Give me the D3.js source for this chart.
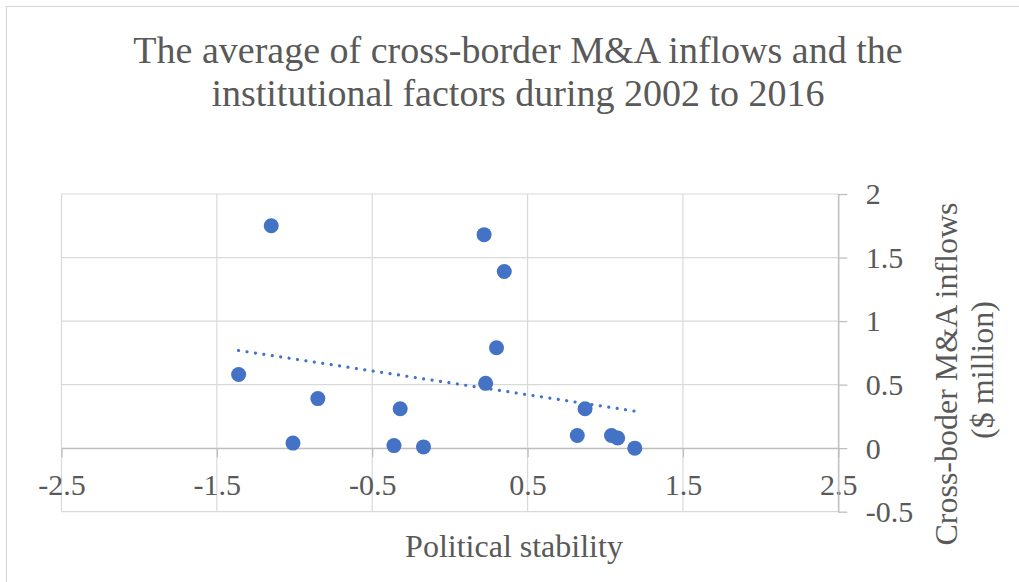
<!DOCTYPE html>
<html>
<head>
<meta charset="utf-8">
<script src="https://cdn.jsdelivr.net/npm/d3@7"></script>
<style>
  html, body { margin: 0; padding: 0; background: #ffffff; }
  svg { display: block; font-family: "Liberation Serif", "Times New Roman", serif; }
</style>
</head>
<body>
<svg id="chart" width="1019" height="582"></svg>
<script>
// Average political stability score and cross-border M&A inflows per country, 2002–2016
const politicalStability = [-1.15, -1.36, -0.85, -1.01, -0.32, -0.36, -0.17, 0.22, 0.35, 0.30, 0.23, 0.87, 0.82, 1.04, 1.08, 1.19];
const maInflows         = [ 1.75,  0.58,  0.39,  0.04,  0.31,  0.02,  0.01, 1.68, 1.39, 0.79, 0.51, 0.31, 0.10, 0.10, 0.08, 0.00];

const xTicks = [-2.5, -1.5, -0.5, 0.5, 1.5, 2.5];
const yTicks = [-0.5, 0, 0.5, 1, 1.5, 2];

const titleLines = ["The average of cross-border M&A inflows and the", "institutional factors during 2002 to 2016"];
const xTitle = "Political stability";
const yTitleLines = ["Cross-boder M&A inflows", "($ million)"];

const textColor = "#595959";
const gridColor = "#d9d9d9";
const axisColor = "#bfbfbf";
const markColor = "#4472C4";

// plain hyphen-minus for negative tick values
const tickText = d => String(d);

const svg = d3.select("#chart");

// chart frame
svg.append("rect")
  .attr("x", 6.5).attr("y", 6.5)
  .attr("width", 1100).attr("height", 700)
  .attr("fill", "#ffffff")
  .attr("stroke", gridColor).attr("stroke-width", 1.2);

const x = d3.scaleLinear().domain([-2.5, 2.5]).range([61.5, 838.3]);
const y = d3.scaleLinear().domain([-0.5, 2]).range([511.7, 194]);

// gridlines
const grid = svg.append("g").attr("stroke", gridColor).attr("stroke-width", 1.2);
grid.selectAll("line.v").data(xTicks).join("line")
  .attr("class", "v")
  .attr("x1", d => x(d)).attr("x2", d => x(d))
  .attr("y1", y(-0.5)).attr("y2", y(2));
grid.selectAll("line.h").data(yTicks).join("line")
  .attr("class", "h")
  .attr("x1", x(-2.5)).attr("x2", x(2.5))
  .attr("y1", d => y(d)).attr("y2", d => y(d));

// x axis crossing at y = 0
const xAxis = svg.append("g")
  .attr("transform", `translate(0,${y(0)})`)
  .call(d3.axisBottom(x).tickValues(xTicks).tickSize(9).tickSizeOuter(0).tickFormat(tickText));
xAxis.select(".domain").attr("stroke", axisColor).attr("stroke-width", 1.3);
xAxis.selectAll(".tick line").attr("stroke", axisColor).attr("stroke-width", 1.3);
xAxis.selectAll(".tick text")
  .attr("y", 47.3).attr("dy", 0)
  .attr("fill", textColor)
  .style("font-size", "30px")
  .style("font-family", "Liberation Serif, Times New Roman, serif");

// y axis on the right at x = 2.5
const yAxis = svg.append("g")
  .attr("transform", `translate(${x(2.5)},0)`)
  .call(d3.axisRight(y).tickValues(yTicks).tickSize(9).tickSizeOuter(0).tickFormat(tickText));
yAxis.select(".domain").attr("stroke", axisColor).attr("stroke-width", 1.3);
yAxis.selectAll(".tick line").attr("stroke", axisColor).attr("stroke-width", 1.3);
yAxis.selectAll(".tick text")
  .attr("x", 27.5).attr("dy", "0.33em")
  .attr("text-anchor", "start")
  .attr("fill", textColor)
  .style("font-size", "30px")
  .style("font-family", "Liberation Serif, Times New Roman, serif");

// linear trendline (least squares) across the observed x range
const n = politicalStability.length;
const mx = d3.mean(politicalStability), my = d3.mean(maInflows);
let sxy = 0, sxx = 0;
for (let i = 0; i < n; i++) {
  sxy += (politicalStability[i] - mx) * (maInflows[i] - my);
  sxx += (politicalStability[i] - mx) ** 2;
}
const slope = sxy / sxx, intercept = my - slope * mx;
const [xmin, xmax] = d3.extent(politicalStability);
svg.append("line")
  .attr("x1", x(xmin)).attr("y1", y(intercept + slope * xmin))
  .attr("x2", x(xmax)).attr("y2", y(intercept + slope * xmax))
  .attr("stroke", markColor).attr("stroke-width", 3.2)
  .attr("stroke-linecap", "round")
  .attr("stroke-dasharray", "0.01 8.5");

// scatter points
svg.append("g").selectAll("circle")
  .data(d3.zip(politicalStability, maInflows))
  .join("circle")
  .attr("cx", d => x(d[0])).attr("cy", d => y(d[1]))
  .attr("r", 7.5)
  .attr("fill", markColor);

// chart title
svg.append("g").selectAll("text").data(titleLines).join("text")
  .attr("x", 518).attr("y", (d, i) => 63.3 + i * 42.7)
  .attr("text-anchor", "middle")
  .attr("fill", textColor)
  .style("font-size", "38px")
  .text(d => d);

// x axis title
svg.append("text")
  .attr("x", 514).attr("y", 557.3)
  .attr("text-anchor", "middle")
  .attr("fill", textColor)
  .style("font-size", "32px")
  .text(xTitle);

// y axis title, rotated
svg.append("g").selectAll("text").data(yTitleLines).join("text")
  .attr("transform", (d, i) => `translate(${956.7 + i * 36.3},${i === 0 ? 374 : 370}) rotate(-90)`)
  .attr("text-anchor", "middle")
  .attr("fill", textColor)
  .style("font-size", "32px")
  .text(d => d);
</script>
</body>
</html>
